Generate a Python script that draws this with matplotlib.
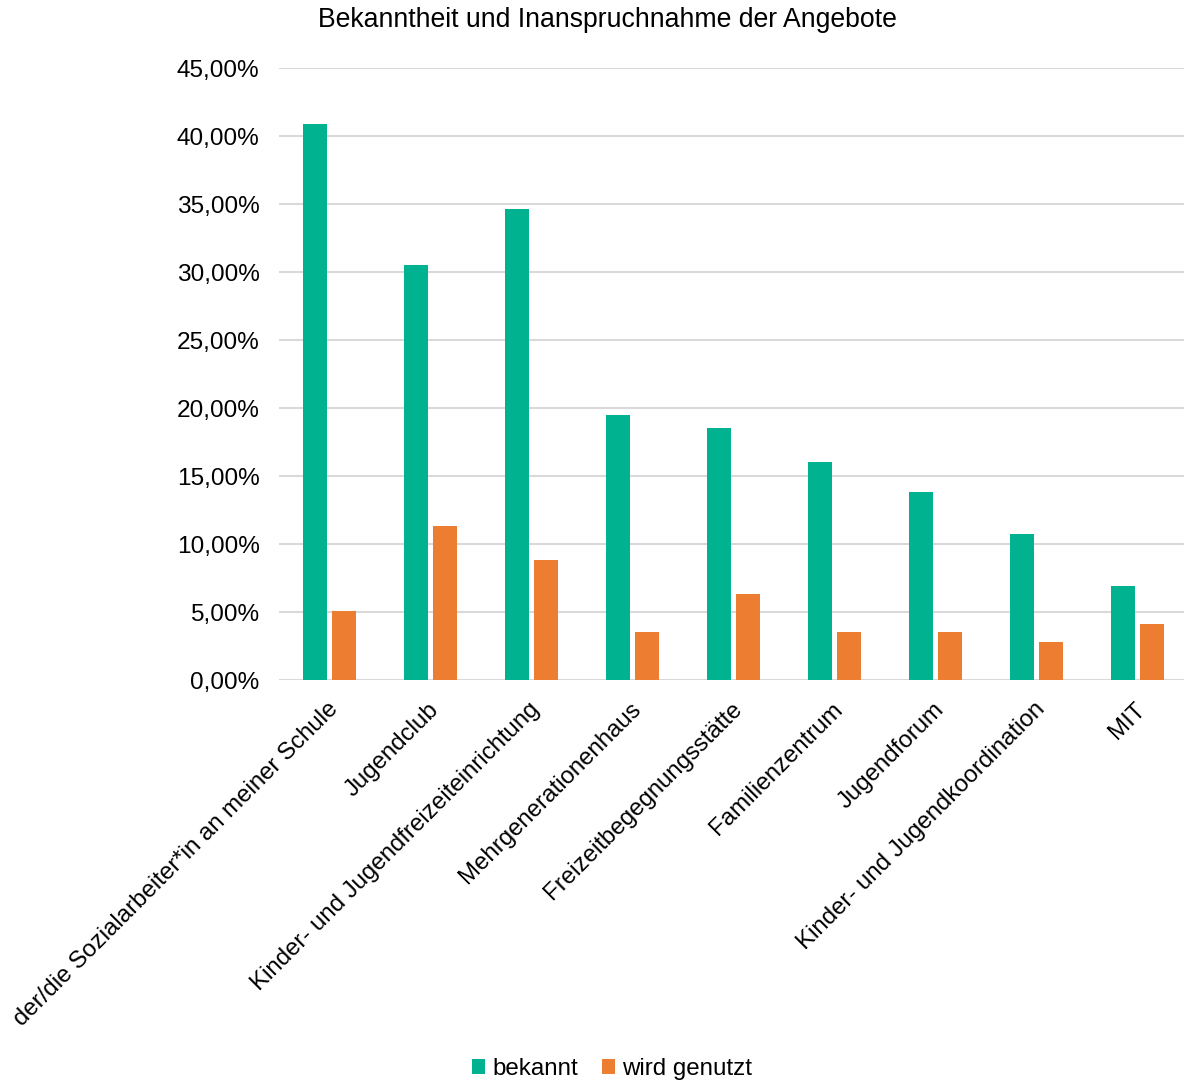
import matplotlib
matplotlib.use("Agg")
import matplotlib.pyplot as plt
import matplotlib.transforms as mtransforms
import numpy as np
from matplotlib.ticker import FuncFormatter

plt.rcParams['font.family'] = ['Liberation Sans', 'DejaVu Sans']

categories = [
    "der/die Sozialarbeiter*in an meiner Schule",
    "Jugendclub",
    "Kinder- und Jugendfreizeiteinrichtung",
    "Mehrgenerationenhaus",
    "Freizeitbegegnungsstätte",
    "Familienzentrum",
    "Jugendforum",
    "Kinder- und Jugendkoordination",
    "MIT",
]
bekannt = [40.9, 30.5, 34.6, 19.5, 18.5, 16.0, 13.8, 10.7, 6.9]
genutzt = [5.1, 11.3, 8.8, 3.5, 6.3, 3.5, 3.5, 2.8, 4.1]
series_names = ["bekannt", "wird genutzt"]
yticks = [0, 5, 10, 15, 20, 25, 30, 35, 40, 45]

green = "#00B290"
orange = "#ED7D31"

W, H = 1184, 1088
fig = plt.figure(figsize=(W / 100, H / 100), dpi=100)
ax = fig.add_axes([279 / W, (H - 680) / H, 909 / W, 612 / H])

x = np.arange(len(categories))
bw = 0.228
off = 0.1436
ax.bar(x - off, bekannt, bw, color=green, label=series_names[0], zorder=3)
ax.bar(x + off, genutzt, bw, color=orange, label=series_names[1], zorder=3)

ax.set_xlim(-0.5, len(categories) - 0.5)
ax.set_ylim(0, 45)
ax.set_yticks(yticks)
ax.yaxis.set_major_formatter(FuncFormatter(lambda v, p: f"{v:.2f}%".replace(".", ",")))
ax.grid(axis="y", color="#D9D9D9", linewidth=1.5, zorder=0)
ax.set_axisbelow(True)
for s in ax.spines.values():
    s.set_visible(False)
ax.tick_params(axis="y", length=0, pad=14, labelsize=17.6, labelcolor="#000000")
ax.tick_params(axis="x", length=0, pad=8, labelsize=17.3)
ax.set_xticks(x)
ax.set_xticklabels(categories, rotation=45, ha="right", va="center", rotation_mode="anchor")
shift = mtransforms.ScaledTranslation(5 / 100, -15 / 100, fig.dpi_scale_trans)
for lbl in ax.get_xticklabels():
    lbl.set_transform(lbl.get_transform() + shift)

fig.text(607.5 / W, 1 - 20 / H, "Bekanntheit und Inanspruchnahme der Angebote",
         ha="center", va="center", fontsize=19.2)

leg = fig.legend(loc="center", bbox_to_anchor=(612 / W, 1 - 1069 / H), ncol=2,
                 frameon=False, fontsize=17.4, handlelength=0.55, handleheight=0.55,
                 handletextpad=0.3, columnspacing=1.0)

fig.savefig("out.png", dpi=100)
